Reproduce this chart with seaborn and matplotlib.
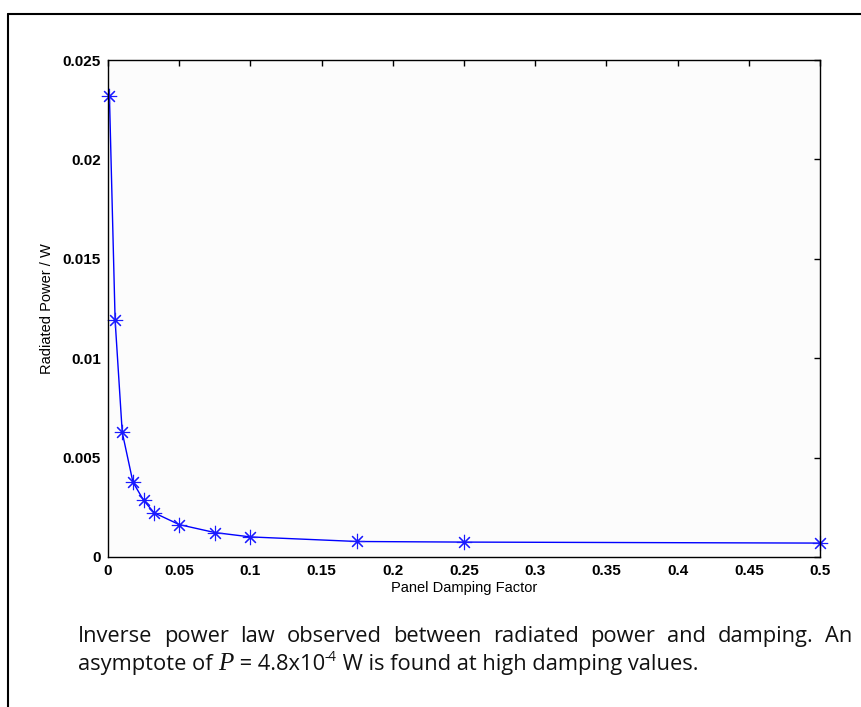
import numpy as np
import pandas as pd
import matplotlib
matplotlib.use("Agg")
import matplotlib.pyplot as plt
import seaborn as sns
from matplotlib.lines import Line2D
from matplotlib.transforms import IdentityTransform

# ---- data ----
damping = [0.001, 0.005, 0.01, 0.0175, 0.025, 0.0325, 0.05, 0.075, 0.1, 0.175, 0.25, 0.5]
power = [0.0232, 0.0119, 0.00627, 0.00377, 0.00285, 0.00222, 0.00163, 0.00123,
         0.00101, 0.00078, 0.00075, 0.00070]
xticks = [0, 0.05, 0.1, 0.15, 0.2, 0.25, 0.3, 0.35, 0.4, 0.45, 0.5]
xticklabels = ["0", "0.05", "0.1", "0.15", "0.2", "0.25", "0.3", "0.35", "0.4", "0.45", "0.5"]
yticks = [0, 0.005, 0.01, 0.015, 0.02, 0.025]
yticklabels = ["0", "0.005", "0.01", "0.015", "0.02", "0.025"]
xlabel = "Panel Damping Factor"
ylabel = "Radiated Power / W"
caption1 = "Inverse power law observed between radiated power and damping. An"
caption2 = ["asymptote of ", "P", " = 4.8x10", "-4", " W is found at high damping values."]

sns.set_theme(style="white")
plt.rcParams["font.family"] = ["Liberation Sans", "DejaVu Sans"]

W, H = 862, 707
fig = plt.figure(figsize=(W / 100, H / 100), dpi=100)
fig.patch.set_facecolor("white")
ax = fig.add_axes([108 / W, 1 - 557 / H, (820 - 108) / W, (557 - 60) / H])
ax.set_facecolor("#fcfcfc")

df = pd.DataFrame({"x": damping, "y": power})
sns.lineplot(data=df, x="x", y="y", ax=ax, color="#0000ff", lw=1.0,
             marker=(8, 2, 0), markersize=11, markeredgecolor="#1a1aff",
             markeredgewidth=0.8, clip_on=False)

ax.set_xlim(0, 0.5)
ax.set_ylim(0, 0.025)
ax.set_xticks(xticks)
ax.set_xticklabels(xticklabels)
ax.set_yticks(yticks)
ax.set_yticklabels(yticklabels)
ax.tick_params(direction="in", length=4, width=1, top=True, right=True,
               labelsize=11, colors="black", pad=5)
for lab in ax.get_xticklabels() + ax.get_yticklabels():
    lab.set_fontweight("bold")
for s in ax.spines.values():
    s.set_color("black")
    s.set_linewidth(1.0)
    s.set_visible(True)
ax.set_xlabel(xlabel, fontsize=10.5, labelpad=2, color="black")
ax.set_ylabel(ylabel, fontsize=10.5, labelpad=6, color="black")

# outer frame (left and top edges visible)
fig.add_artist(Line2D([8, 8], [0, H - 14], transform=IdentityTransform(), color="black", lw=1.5))
fig.add_artist(Line2D([8, W], [H - 14, H - 14], transform=IdentityTransform(), color="black", lw=1.5))

# caption
cap_font = "Open Sans"
fig.canvas.draw()
r = fig.canvas.get_renderer()

x0, x1 = 78, 852
x2_end = 700
base1 = H - 642
base2 = H - 670


def draw_line2(size):
    arts = []
    x = x0
    for piece in caption2:
        kw = dict(transform=IdentityTransform(), fontsize=size, family=cap_font,
                  va="baseline", ha="left", color="#111111")
        y = base2
        if piece == "P":
            kw.update(family="Liberation Serif", style="italic", fontsize=size * 1.15)
        if piece == "-4":
            kw.update(fontsize=size * 0.62)
            y = base2 + size * 0.55
        t = fig.text(x, y, piece, **kw)
        arts.append(t)
        x += t.get_window_extent(r).width
    return arts, x


# font size chosen so that the second line ends where it does in the reference
size = 14.0
arts, xe = draw_line2(size)
for a in arts:
    a.remove()
size = size * (x2_end - x0) / (xe - x0)
arts, xe = draw_line2(size)

words = caption1.split()
tw = []
tobjs = []
for w in words:
    t = fig.text(0, base1, w, transform=IdentityTransform(), fontsize=size,
                 family=cap_font, va="baseline", ha="left", color="#111111")
    tobjs.append(t)
    tw.append(t.get_window_extent(r).width)
gap = (x1 - x0 - sum(tw)) / (len(words) - 1)
x = x0
for t, w_ in zip(tobjs, tw):
    t.set_x(x)
    x += w_ + gap

fig.savefig("out.png", dpi=100)
